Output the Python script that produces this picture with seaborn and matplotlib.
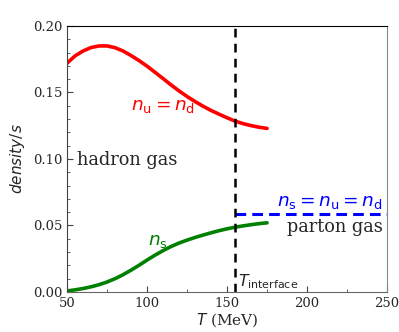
import numpy as np
import pandas as pd
import seaborn as sns
import matplotlib
matplotlib.use("Agg")
import matplotlib.pyplot as plt
from matplotlib.ticker import MultipleLocator

# temperature grid (MeV) and densities
T = [50, 55, 60, 65, 70, 75, 80, 85, 90, 95, 100, 105, 110, 115, 120, 125,
     130, 135, 140, 145, 150, 155, 160, 165, 170, 175]
n_ud = [0.172, 0.1775, 0.1812, 0.1838, 0.1850, 0.1850, 0.1837, 0.1812, 0.1778, 0.1740,
        0.1698, 0.1652, 0.1605, 0.1557, 0.1512, 0.1470, 0.1432, 0.1397, 0.1365, 0.1337,
        0.1310, 0.1285, 0.1266, 0.1251, 0.1239, 0.1230]
n_s = [0.0008, 0.0016, 0.0026, 0.0039, 0.0055, 0.0075, 0.0100, 0.0130, 0.0164, 0.0201,
       0.0240, 0.0277, 0.0311, 0.0342, 0.0368, 0.0390, 0.0410, 0.0428, 0.0445, 0.0461,
       0.0475, 0.0487, 0.0497, 0.0506, 0.0514, 0.0520]
T_parton = [155, 250]
n_parton = [0.059, 0.059]
T_interface = 155

sns.set_style("ticks")
plt.rcParams['font.family'] = ['DejaVu Serif']
plt.rcParams['mathtext.fontset'] = 'dejavusans'

df_h = pd.DataFrame({"T": T, "n_ud": n_ud, "n_s": n_s})
df_p = pd.DataFrame({"T": T_parton, "n": n_parton})

fig = plt.figure(figsize=(3.99, 3.32), dpi=100)
ax = fig.add_axes([0.168, 0.1205, 0.802, 0.8012])

sns.lineplot(data=df_h, x="T", y="n_ud", color="red", lw=2.6, ax=ax)
sns.lineplot(data=df_h, x="T", y="n_s", color="green", lw=2.6, ax=ax)
sns.lineplot(data=df_p, x="T", y="n", color="blue", lw=2.2, ls=(0, (3.5, 2)), ax=ax)
ax.axvline(T_interface, color="black", lw=1.8, ls=(0, (3.5, 2.5)))

ax.set_xlim(50, 250)
ax.set_ylim(0, 0.2)
ax.xaxis.set_major_locator(MultipleLocator(50))
ax.xaxis.set_minor_locator(MultipleLocator(25))
ax.yaxis.set_major_locator(MultipleLocator(0.05))
ax.yaxis.set_minor_locator(MultipleLocator(0.01))
ax.tick_params(which="both", direction="in", labelsize=9.5, color="#444444")
ax.tick_params(which="major", length=4)
ax.tick_params(which="minor", length=2.5)
ax.yaxis.set_major_formatter(matplotlib.ticker.FormatStrFormatter("%.2f"))

ax.spines["top"].set_color("black")
ax.spines["left"].set_color("#444444")
ax.spines["right"].set_color("#888888")
ax.spines["bottom"].set_color("#666666")

ax.set_xlabel(r"$T$ (MeV)", fontsize=11, labelpad=1)
ax.set_ylabel(r"$density/s$", fontsize=11, labelpad=4)

ax.text(90, 0.140, r"$n_{\rm u}=n_{\rm d}$", color="red", fontsize=13.3, va="center")
ax.text(56, 0.099, "hadron gas", fontsize=12.8, va="center")
ax.text(100.5, 0.038, r"$n_{\rm s}$", color="green", fontsize=13.3, va="center")
ax.text(247.5, 0.068, r"$n_{\rm s}=n_{\rm u}=n_{\rm d}$", color="blue", fontsize=13.3, va="center", ha="right")
ax.text(247.5, 0.049, "parton gas", fontsize=12.8, va="center", ha="right")
ax.text(157, 0.008, r"$T_{\rm interface}$", fontsize=11.3, va="center")

fig.savefig("out.png", dpi=100)
